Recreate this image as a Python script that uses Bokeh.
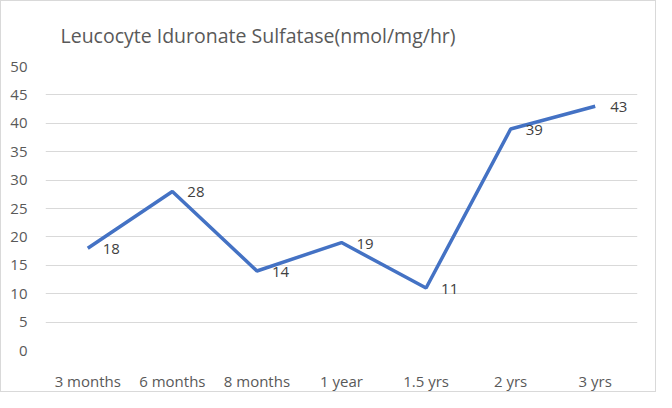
from bokeh.plotting import figure
from bokeh.models import ColumnDataSource, Range1d, FactorRange, SingleIntervalTicker
from bokeh.core.properties import value
from bokeh.embed import file_html
from bokeh.resources import INLINE

categories = ["3 months", "6 months", "8 months", "1 year", "1.5 yrs", "2 yrs", "3 yrs"]
values = [18, 28, 14, 19, 11, 39, 43]
title_text = "Leucocyte Iduronate Sulfatase(nmol/mg/hr)"

FONT = "Open Sans"
src = ColumnDataSource(dict(x=categories, y=values, t=[str(v) for v in values]))

p = figure(width=656, height=392, output_backend="svg", toolbar_location=None,
           x_range=FactorRange(*categories, range_padding=0), y_range=Range1d(0, 50),
           min_border_left=44, min_border_right=20, min_border_top=64, min_border_bottom=43,
           title=title_text)
p.styles = {"border": "1px solid #d9d9d9", "box-sizing": "border-box"}
p.outline_line_color = None
p.background_fill_color = "white"
p.border_fill_color = "white"

p.title.align = "left"
p.title.offset = 15
p.title.standoff = 36
p.title.text_font = FONT
p.title.text_font_size = "19.5px"
p.title.text_font_style = "normal"
p.title.text_color = "#595959"

p.xgrid.grid_line_color = None
p.ygrid.grid_line_color = "#d9d9d9"
p.ygrid.grid_line_width = 1
p.yaxis.ticker = SingleIntervalTicker(interval=5)

for ax in (p.xaxis, p.yaxis):
    ax.axis_line_color = None
    ax.major_tick_line_color = None
    ax.minor_tick_line_color = None
    ax.major_label_text_font = FONT
    ax.major_label_text_font_size = "15px"
    ax.major_label_text_color = "#595959"
p.yaxis.major_label_standoff = 12
p.xaxis.major_label_standoff = 14

p.line("x", "y", source=src, line_color="#4472C4", line_width=3.5)
p.text("x", "y", text="t", source=src, x_offset=15, y_offset=1,
       text_font=value(FONT), text_font_size="15px", text_color="#404040",
       text_align="left", text_baseline="middle")

open("out.html", "w").write(file_html(p, INLINE))
